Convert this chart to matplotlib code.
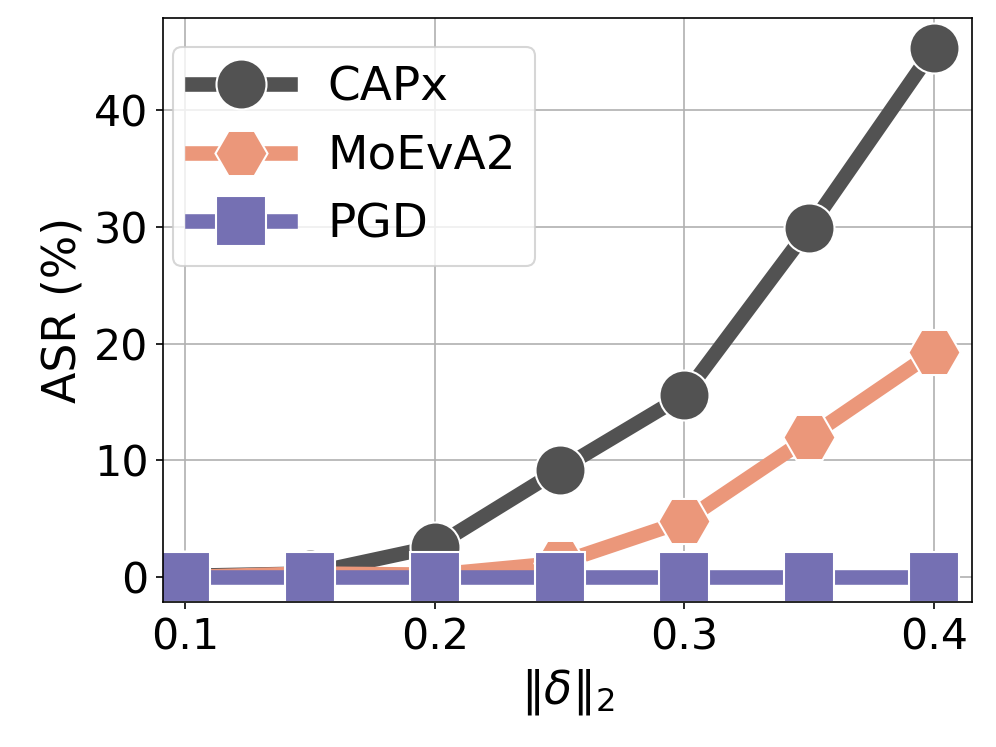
import matplotlib
matplotlib.use("Agg")
import matplotlib.pyplot as plt

eps = [0.1, 0.15, 0.2, 0.25, 0.3, 0.35, 0.4]
capx = [0.1, 0.3, 2.6, 9.2, 15.6, 29.9, 45.3]
moeva = [0.0, 0.3, 0.2, 1.2, 4.8, 12.0, 19.3]
pgd = [0.0, 0.0, 0.0, 0.0, 0.0, 0.0, 0.0]

fig = plt.figure(figsize=(6.64, 4.98), dpi=150)
ax = fig.add_axes([163/996, 1-602/747, (972-163)/996, (602-18)/747])
ax.grid(True, color="#b0b0b0", linewidth=0.8, zorder=0)
ax.set_axisbelow(True)

common = dict(linewidth=7, markeredgecolor="white", markeredgewidth=1.0)
ax.plot(eps, capx, marker="o", markersize=24, color="#525252", label="CAPx", **common)
ax.plot(eps, moeva, marker="H", markersize=25, color="#EB977A", label="MoEvA2", **common)
ax.plot(eps, pgd, marker="s", markersize=24, color="#7570B3", label="PGD", **common)

ax.set_xlim(0.0912, 0.4152)
ax.set_ylim(-2.14, 47.9)
ax.set_xticks([0.1, 0.2, 0.3, 0.4])
ax.set_yticks([0, 10, 20, 30, 40])
ax.tick_params(labelsize=20.5)
ax.set_xlabel(r"$\|\delta\|_2$", fontsize=22)
ax.set_ylabel("ASR (%)", fontsize=22)
ax.legend(loc="upper left", bbox_to_anchor=((173-163)/809, (602-47)/584),
          borderaxespad=0, fontsize=22.5, handlelength=2.1, framealpha=0.8)

fig.savefig("out.png", dpi=150)
